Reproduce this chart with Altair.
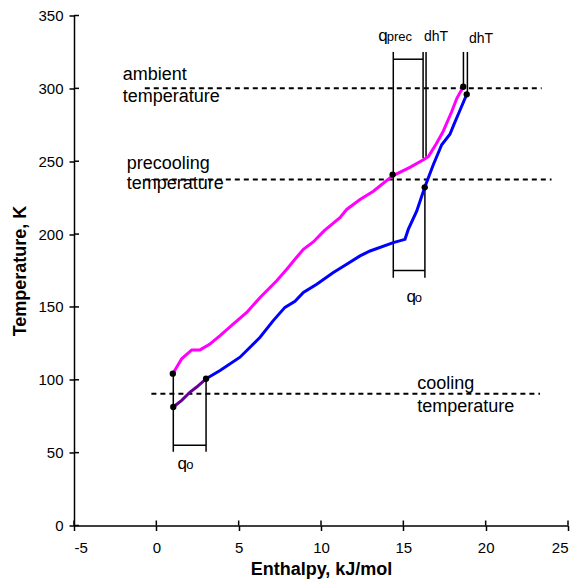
import altair as alt
import pandas as pd

# ---- data ----
pink_h = [1.0, 1.54, 2.15, 2.65, 3.26, 3.87, 4.68, 5.49, 6.30, 7.31, 7.92, 8.42, 8.93, 9.53, 10.2,
          11.15, 11.56, 12.37, 13.18, 14.35, 15.4, 16.22, 16.53, 17.0, 17.4, 17.94, 18.25, 18.64]
pink_t = [104.2, 114.4, 120.5, 120.5, 124.6, 130.3, 138.3, 146.2, 156.5, 167.9, 175.9, 182.7, 189.6,
          194.6, 202.3, 211.2, 216.9, 223.7, 229.4, 240.0, 245.8, 251.0, 253.3, 262.0, 270.0, 284.1,
          293.2, 301.1]

blue_h = [3.02, 3.87, 5.08, 6.30, 7.10, 7.81, 8.42, 8.93, 9.74, 10.75, 11.56, 12.37, 12.98, 14.39,
          15.1, 15.3, 15.81, 16.3, 16.82, 17.33, 17.83, 18.1, 18.44, 18.85]
blue_t = [100.7, 106.4, 115.5, 129.2, 140.6, 149.7, 153.8, 159.9, 165.6, 173.6, 179.3, 185.0, 188.4,
          194.1, 196.4, 203.2, 215.7, 232.1, 247.6, 261.3, 268.5, 276.0, 285.0, 295.9]

purple_h = [1.03, 1.54, 2.05, 2.45, 3.02]
purple_t = [81.3, 85.9, 91.6, 95.0, 100.7]

dot_h = [1.0, 1.03, 3.02, 14.35, 16.3, 18.64, 18.85]
dot_t = [104.2, 81.3, 100.7, 240.8, 232.1, 301.1, 295.9]

# bracket segments (enthalpy / temperature end points)
seg_h1 = [14.39, 14.39, 16.2, 16.38, 16.31, 14.39, 18.65, 18.89, 1.03, 3.02, 1.03]
seg_h2 = [14.39, 16.2, 16.2, 16.38, 16.31, 16.31, 18.65, 18.89, 1.03, 3.02, 3.02]
seg_t1 = [170, 320, 252, 253, 170, 175, 301, 296, 50.6, 50.6, 55.1]
seg_t2 = [325, 320, 325, 325, 232, 175, 325, 325, 104, 100.7, 55.1]

# dashed temperature levels
ref_t = [300, 237.4, 90.5]
ref_h1 = [-0.7, -0.7, -0.3]
ref_h2 = [23.4, 24.0, 23.3]

# annotation texts
lab_text = ["ambient", "temperature", "precooling", "temperature", "cooling", "temperature",
            "q", "prec", "dhT", "dhT", "q", "o", "q", "o"]
lab_h = [-2.04, -2.04, -1.8, -1.8, 15.85, 15.85, 13.48, 13.99, 16.25, 18.99, 15.19, 15.7, 1.28, 1.81]
lab_t = [305.7, 290.4, 244.9, 231.0, 93.9, 77.9, 332.4, 332.4, 332.4, 331.4, 153.1, 153.1, 38.5, 38.5]
lab_size = [18, 18, 18, 18, 18, 18, 17, 13, 14, 14, 17, 13, 17, 13]

x_ticks = [-5, 0, 5, 10, 15, 20, 25]
y_ticks = [0, 50, 100, 150, 200, 250, 300, 350]

W, H = 494, 510
FONT = "Liberation Sans"

xs = alt.Scale(domain=[-5, 25], nice=False, zero=False)
ys = alt.Scale(domain=[0, 350], nice=False, zero=False)
xa = alt.Axis(values=x_ticks, title="Enthalpy, kJ/mol", grid=False, tickSize=5, tickWidth=1.5,
              tickColor="black", domainColor="black", domainWidth=1.5, labelFontSize=15,
              labelColor="black", labelPadding=10, labelFont=FONT, titleFont=FONT,
              labelExpr="'' + datum.value",
              titleFontSize=18, titleFontWeight="bold", titleColor="black", titleY=44,
              titleBaseline="middle")
ya = alt.Axis(values=y_ticks, title="Temperature, K", grid=False, tickSize=5, tickWidth=1.5,
              tickColor="black", domainColor="black", domainWidth=1.5, labelFontSize=15,
              labelColor="black", labelPadding=6, labelFont=FONT, titleFont=FONT,
              titleFontSize=18, titleFontWeight="bold", titleColor="black", titleX=-54,
              titleY=H / 2, titleBaseline="middle")


def X(f):
    return alt.X(f, type="quantitative", scale=xs, axis=xa)


def Y(f):
    return alt.Y(f, type="quantitative", scale=ys, axis=ya)


def curve(h, t, color, width=3):
    df = pd.DataFrame({"h": h, "t": t, "i": range(len(h))})
    return alt.Chart(df).mark_line(color=color, strokeWidth=width).encode(
        x=X("h"), y=Y("t"), order="i:Q")


pink = curve(pink_h, pink_t, "#ff00ff")
blue = curve(blue_h, blue_t, "#0000ff")
purple = curve(purple_h, purple_t, "#660099")

segs = alt.Chart(pd.DataFrame({"h1": seg_h1, "h2": seg_h2, "t1": seg_t1, "t2": seg_t2})).mark_rule(
    color="black", strokeWidth=1.5).encode(x=X("h1"), x2="h2", y=Y("t1"), y2="t2")

refs = alt.Chart(pd.DataFrame({"h1": ref_h1, "h2": ref_h2, "t": ref_t})).mark_rule(
    color="black", strokeWidth=2, strokeDash=[5, 4]).encode(x=X("h1"), x2="h2", y=Y("t"))

dots = alt.Chart(pd.DataFrame({"h": dot_h, "t": dot_t})).mark_circle(
    color="black", opacity=1, size=40).encode(x=X("h"), y=Y("t"))

labels = alt.Chart(pd.DataFrame({"txt": lab_text, "h": lab_h, "t": lab_t, "s": lab_size})).mark_text(
    align="left", baseline="alphabetic", font=FONT, color="black").encode(
    x=X("h"), y=Y("t"), text="txt:N", size=alt.Size("s:Q", scale=None, legend=None))

# inward halves of the crossing tick marks
xt_in = alt.Chart(pd.DataFrame({"h": x_ticks})).mark_rule(color="black", strokeWidth=1.5).encode(
    x=X("h"), y=alt.value(H), y2=alt.value(H - 5))
yt_in = alt.Chart(pd.DataFrame({"t": y_ticks})).mark_rule(color="black", strokeWidth=1.5).encode(
    y=Y("t"), x=alt.value(0), x2=alt.value(5))

chart = alt.layer(refs, segs, xt_in, yt_in, purple, pink, blue, dots, labels).properties(
    width=W, height=H,
    autosize=alt.AutoSizeParams(type="none"),
    padding={"left": 66, "top": 7.5, "right": 8, "bottom": 54.5},
    background="white",
).configure_view(stroke=None)

chart.save("out.html", embed_options={"renderer": "svg", "actions": False})
